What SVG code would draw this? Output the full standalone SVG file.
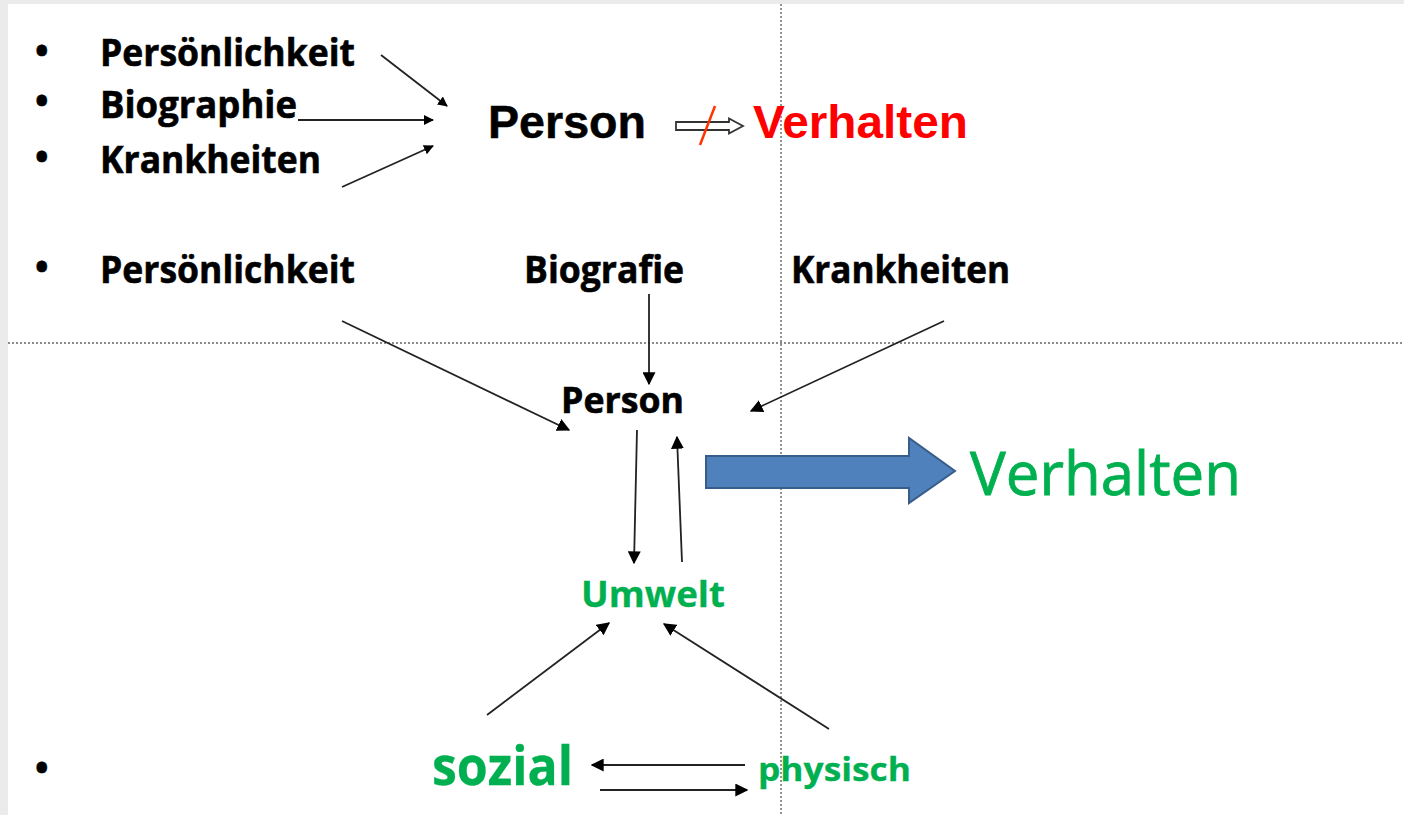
<svg xmlns="http://www.w3.org/2000/svg" width="1404" height="815" viewBox="0 0 1404 815">
<style>
.b{font-family:"Open Sans","Liberation Sans",sans-serif;font-weight:bold;fill:#000;stroke:#000;stroke-width:0.6}
.a{font-family:"Liberation Sans",Arial,sans-serif;font-weight:bold}
.g{fill:#00B050;stroke:#00B050;stroke-width:0.3}
.ln{stroke:#222;stroke-width:1.8;fill:none}
.dot{stroke:#666;stroke-width:1.4;stroke-dasharray:2 2;fill:none}
</style>
<defs>
<marker id="ah" viewBox="0 0 10 10" refX="9" refY="5" markerWidth="10" markerHeight="10" markerUnits="userSpaceOnUse" orient="auto">
<path d="M0,0 L10,5 L0,10 z" fill="#000"/>
</marker>
<marker id="ah2" viewBox="0 0 10 10" refX="9" refY="5" markerWidth="13" markerHeight="13" markerUnits="userSpaceOnUse" orient="auto">
<path d="M0,0 L10,5 L0,10 z" fill="#000"/>
</marker>
</defs>
<rect x="0" y="0" width="1404" height="815" fill="#EBEBEB"/>
<rect x="8" y="4" width="1396" height="811" fill="#FFFFFF"/>
<g id="guides">
<line class="dot" x1="781" y1="4" x2="781" y2="815"/>
<line class="dot" x1="8" y1="343" x2="1404" y2="343"/>
</g>
<g id="bullets" class="b" font-size="36">
<text x="35" y="64">•</text>
<text x="35" y="114">•</text>
<text x="35" y="170">•</text>
<text x="35" y="280">•</text>
<text x="35" y="781">•</text>
</g>
<g id="top-list" class="b" font-size="37">
<text id="t-pers" x="100" y="66" textLength="255" lengthAdjust="spacingAndGlyphs">Persönlichkeit</text>
<text id="t-bio" x="100" y="118" textLength="197" lengthAdjust="spacingAndGlyphs">Biographie</text>
<text id="t-krank" x="100" y="173" textLength="221" lengthAdjust="spacingAndGlyphs">Krankheiten</text>
</g>
<g id="top-person"><text class="a" x="488" y="138" font-size="46" fill="#000" stroke="#000" stroke-width="0.5" textLength="158" lengthAdjust="spacingAndGlyphs">Person</text></g>
<g id="top-verhalten"><text class="a" x="753" y="138" font-size="46" fill="#FF0000" textLength="215" lengthAdjust="spacingAndGlyphs">Verhalten</text></g>
<g id="not-implies">
<path d="M676,122 H729 V118.5 L743,126 L729,133.5 V130 H676 Z" fill="#FFFFFF" stroke="#333" stroke-width="1.8"/>
<line x1="700" y1="145" x2="715" y2="106" stroke="#FF3300" stroke-width="2.5"/>
</g>
<g id="mid-row" class="b" font-size="38">
<text x="100" y="283" textLength="255" lengthAdjust="spacingAndGlyphs">Persönlichkeit</text>
<text x="524" y="283" textLength="160" lengthAdjust="spacingAndGlyphs">Biografie</text>
<text x="791" y="283" textLength="219" lengthAdjust="spacingAndGlyphs">Krankheiten</text>
</g>
<g id="person"><text class="b" x="561" y="413" font-size="36" textLength="123" lengthAdjust="spacingAndGlyphs">Person</text></g>
<g id="umwelt"><text class="b g" x="581" y="607" font-size="35" textLength="144" lengthAdjust="spacingAndGlyphs">Umwelt</text></g>
<g id="verhalten"><text x="970" y="495" font-family="'Open Sans','Liberation Sans',sans-serif" font-size="60" fill="#00B050" stroke="#00B050" stroke-width="0.8" textLength="271" lengthAdjust="spacingAndGlyphs">Verhalten</text></g>
<g id="sozial"><text class="b g" x="432" y="785" font-size="54" textLength="141" lengthAdjust="spacingAndGlyphs">sozial</text></g>
<g id="physisch"><text class="b g" x="758" y="781" font-size="33" textLength="153" lengthAdjust="spacingAndGlyphs">physisch</text></g>
<g id="big-arrow">
<path d="M706,456 H909 V438 L955,471 L909,503 V488 H706 Z" fill="#4F81BD" stroke="#385D8A" stroke-width="2"/>
</g>
<g id="connectors">
<line class="ln" x1="381" y1="55" x2="447" y2="106" marker-end="url(#ah)"/>
<line class="ln" x1="298" y1="120" x2="433" y2="120" marker-end="url(#ah)"/>
<line class="ln" x1="342" y1="187" x2="433" y2="146" marker-end="url(#ah)"/>
<line class="ln" x1="342" y1="321" x2="569" y2="430" marker-end="url(#ah2)"/>
<line class="ln" x1="649" y1="294" x2="649" y2="384" marker-end="url(#ah2)"/>
<line class="ln" x1="944" y1="321" x2="751" y2="411" marker-end="url(#ah2)"/>
<line class="ln" x1="637" y1="430" x2="634" y2="563" marker-end="url(#ah2)"/>
<line class="ln" x1="682" y1="562" x2="677" y2="437" marker-end="url(#ah2)"/>
<line class="ln" x1="487" y1="715" x2="609" y2="623" marker-end="url(#ah2)"/>
<line class="ln" x1="829" y1="729" x2="664" y2="624" marker-end="url(#ah2)"/>
<line class="ln" x1="745" y1="765" x2="592" y2="765" marker-end="url(#ah2)"/>
<line class="ln" x1="600" y1="790" x2="747" y2="790" marker-end="url(#ah2)"/>
</g>
</svg>
